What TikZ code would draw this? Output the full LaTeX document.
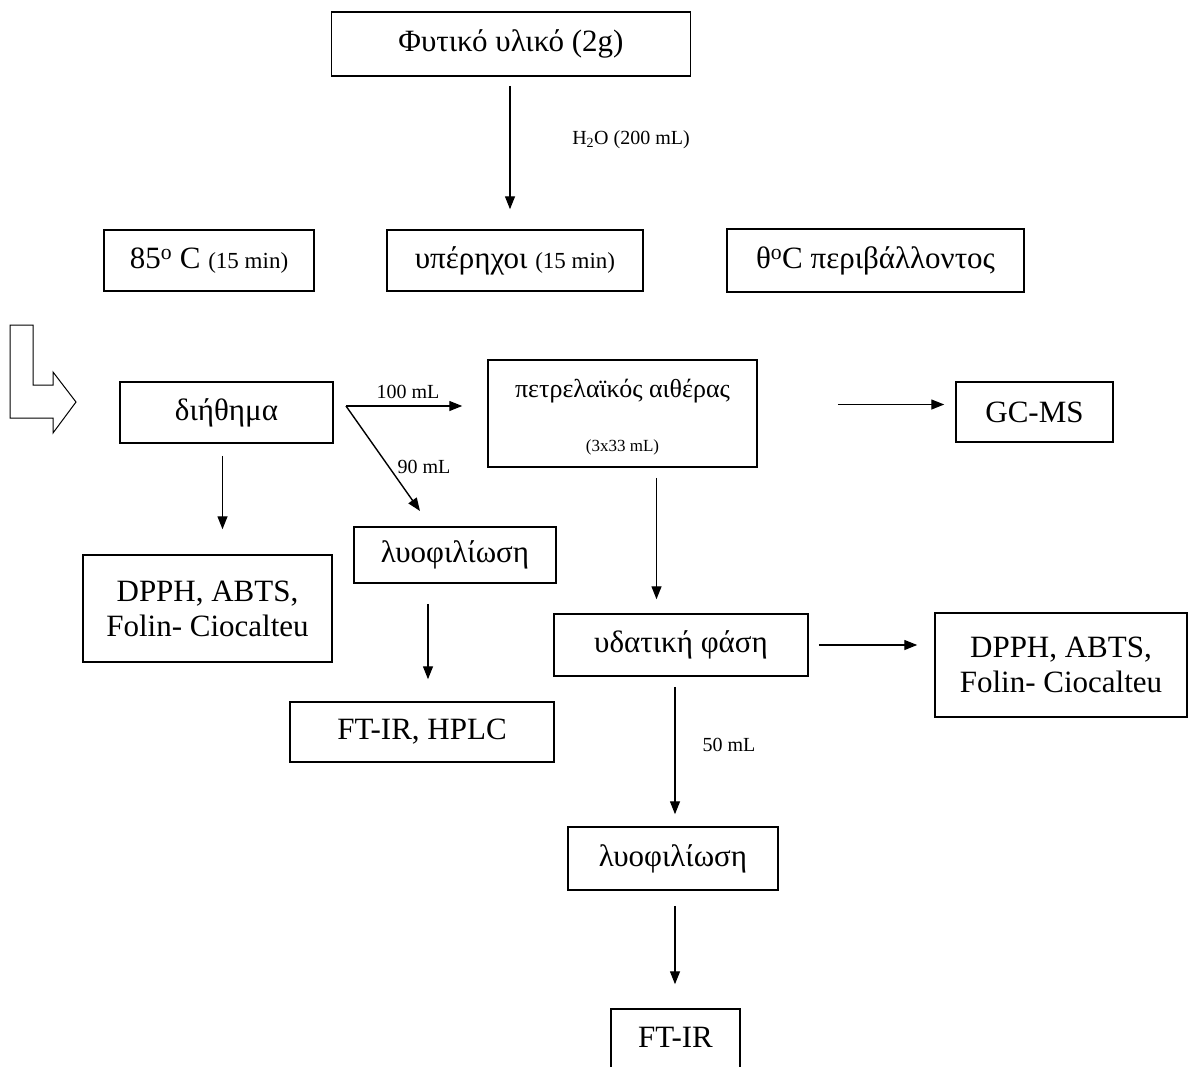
\documentclass[tikz,border=0pt]{standalone}
\usepackage{fontspec}
\setmainfont{Liberation Serif}
\usetikzlibrary{arrows.meta}
\tikzset{
  box/.style={draw, line width=1.5pt, inner sep=0pt, align=center,
    font=\fontsize{31}{35}\selectfont},
  arr/.style={-{Triangle[length=13pt,width=10pt]}, line width=1.4pt},
  lbl/.style={inner sep=0pt, font=\fontsize{20}{22}\selectfont},
}
\newcommand{\smalltxt}[1]{{\fontsize{23}{25}\selectfont #1}}
\begin{document}
\begin{tikzpicture}[x=1pt,y=-1pt]
  \clip (0,0) rectangle (1189,1066);
  % boxes
  \node[box, minimum width=359pt, minimum height=64pt] (plant) at (511,44) {Φυτικό υλικό (2g)};
  \node[box, minimum width=210pt, minimum height=61pt] (hot) at (209,260.5) {85\textsuperscript{o} C \smalltxt{(15 min)}};
  \node[box, minimum width=256pt, minimum height=61pt] (ultra) at (515,260.5) {υπέρηχοι \smalltxt{(15 min)}};
  \node[box, minimum width=297pt, minimum height=63pt] (room) at (875.5,260.5) {θ\textsuperscript{o}C περιβάλλοντος};
  \node[box, minimum width=213pt, minimum height=61pt] (filt) at (226.5,412.5) {διήθημα};
  \node[box, minimum width=269pt, minimum height=107pt] (petrol) at (622.5,413.5) {};
  \node[inner sep=0pt, font=\fontsize{26}{30}\selectfont] (petroltxt) at (622.5,391) {πετρελαϊκός αιθέρας};
  \node[inner sep=0pt, font=\fontsize{17}{19}\selectfont] (petrolvol) at (622.5,447) {(3x33 mL)};
  \node[box, minimum width=157pt, minimum height=60pt] (gcms) at (1034.5,412) {GC-MS};
  \node[box, minimum width=249pt, minimum height=107pt] (dpph1) at (207.5,608.5) {DPPH, ABTS,\\Folin- Ciocalteu};
  \node[box, minimum width=202pt, minimum height=56pt] (lyo1) at (455,555) {λυοφιλίωση};
  \node[box, minimum width=264pt, minimum height=60pt] (hplc) at (422,732) {FT-IR, HPLC};
  \node[box, minimum width=254pt, minimum height=62pt] (aqua) at (681,645) {υδατική φάση};
  \node[box, minimum width=252pt, minimum height=104pt] (dpph2) at (1061,665) {DPPH, ABTS,\\Folin- Ciocalteu};
  \node[box, minimum width=210pt, minimum height=63pt] (lyo2) at (673,858.5) {λυοφιλίωση};
  \node[box, minimum width=129pt, minimum height=72pt, text depth=16pt] (ftir) at (675.5,1045) {FT-IR};
  % hollow arrow
  \draw[line width=1pt] (10,325) -- (33,325) -- (33,385) -- (53,385) -- (53,372)
    -- (76,402) -- (53,433) -- (53,418) -- (10,418) -- cycle;
  % labels
  \node[lbl] (water) at (631,140) {H\textsubscript{2}O (200 mL)};
  \node[lbl] (v100) at (408,392) {100 mL};
  \node[lbl] (v90) at (424,467) {90 mL};
  \node[lbl] (v50) at (729,745) {50 mL};
  % connectors
  \coordinate (split) at (346,406);
  \coordinate (d90) at (420,511);
  \draw[arr, shorten <=9pt, shorten >=20pt] ([xshift=-1pt]plant.south) -- ([xshift=-1pt]plant.south |- ultra.north);
  \draw[arr, shorten <=12pt, shorten >=25pt] ([xshift=-4pt]filt.south) -- ([xshift=-4pt]filt.south |- dpph1.north);
  \draw[arr, shorten >=25pt] (split) -- (split -| petrol.west);
  \draw[arr] (split) -- (d90);
  \draw[arr, shorten <=80pt, shorten >=11pt] ([yshift=9pt]petrol.east) -- ([yshift=9pt]petrol.east -| gcms.west);
  \draw[arr, shorten <=10pt, shorten >=14pt] ([xshift=34pt]petrol.south) -- ([xshift=34pt]petrol.south |- aqua.north);
  \draw[arr, shorten <=20pt, shorten >=22pt] ([xshift=-27pt]lyo1.south) -- ([xshift=-27pt]lyo1.south |- hplc.north);
  \draw[arr, shorten <=10pt, shorten >=17pt] (aqua.east) -- (aqua.east -| dpph2.west);
  \draw[arr, shorten <=10pt, shorten >=12pt] ([xshift=-6pt]aqua.south) -- ([xshift=-6pt]aqua.south |- lyo2.north);
  \draw[arr, shorten <=15pt, shorten >=24pt] ([xshift=2pt]lyo2.south) -- ([xshift=2pt]lyo2.south |- ftir.north);
\end{tikzpicture}
\end{document}
